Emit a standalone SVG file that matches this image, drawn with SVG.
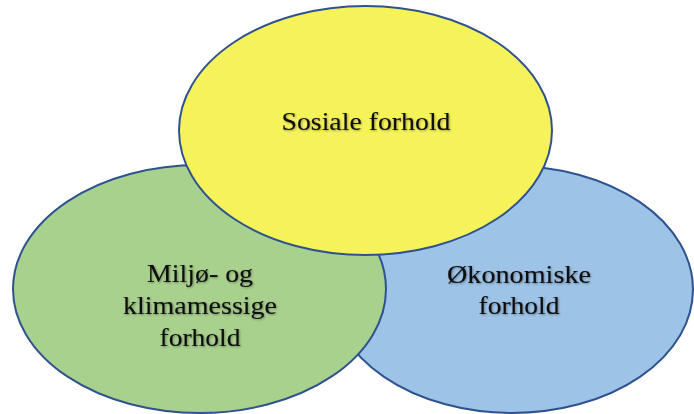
<svg xmlns="http://www.w3.org/2000/svg" width="694" height="414" viewBox="0 0 694 414">
  <defs>
    <filter id="soft" x="-10%" y="-30%" width="120%" height="160%">
      <feGaussianBlur in="SourceAlpha" stdDeviation="1" result="b"/>
      <feOffset in="b" dx="0.8" dy="0.8" result="o"/>
      <feComponentTransfer in="o" result="s"><feFuncA type="linear" slope="0.35"/></feComponentTransfer>
      <feMerge><feMergeNode in="s"/><feMergeNode in="SourceGraphic"/></feMerge>
    </filter>
    <style>
      .circle { stroke: #2f528f; stroke-width: 2; }
      .label { font-size: 24.5px; fill: #111; stroke: #111; stroke-width: 0.1; text-anchor: middle; filter: url(#soft); }
    </style>
  </defs>
  <rect width="694" height="414" fill="#ffffff"/>

  <!-- Economic sphere (bottom right) -->
  <g id="okonomiske">
    <ellipse class="circle" cx="512" cy="289.5" rx="181" ry="123.5" fill="#9dc3e6"/>
    <text class="label" font-family="Liberation Serif, Times New Roman, serif" x="519" y="283" textLength="144" lengthAdjust="spacingAndGlyphs">Økonomiske</text>
    <text class="label" font-family="Liberation Serif, Times New Roman, serif" x="519" y="314" textLength="81" lengthAdjust="spacingAndGlyphs">forhold</text>
  </g>

  <!-- Environmental and climate sphere (bottom left) -->
  <g id="miljo">
    <ellipse class="circle" cx="199.5" cy="289" rx="186.5" ry="124" fill="#a9d18e"/>
    <text class="label" font-family="Liberation Serif, Times New Roman, serif" x="200" y="282" textLength="106" lengthAdjust="spacingAndGlyphs">Miljø- og</text>
    <text class="label" font-family="Liberation Serif, Times New Roman, serif" x="200" y="314" textLength="154" lengthAdjust="spacingAndGlyphs">klimamessige</text>
    <text class="label" font-family="Liberation Serif, Times New Roman, serif" x="200" y="346" textLength="81" lengthAdjust="spacingAndGlyphs">forhold</text>
  </g>

  <!-- Social sphere (top) -->
  <g id="sosiale">
    <ellipse class="circle" cx="365.5" cy="130.5" rx="186.5" ry="124.5" fill="#f6f35a"/>
    <text class="label" font-family="Liberation Serif, Times New Roman, serif" x="366" y="130" textLength="169" lengthAdjust="spacingAndGlyphs">Sosiale forhold</text>
  </g>

  <g id="connectors"/>
</svg>
